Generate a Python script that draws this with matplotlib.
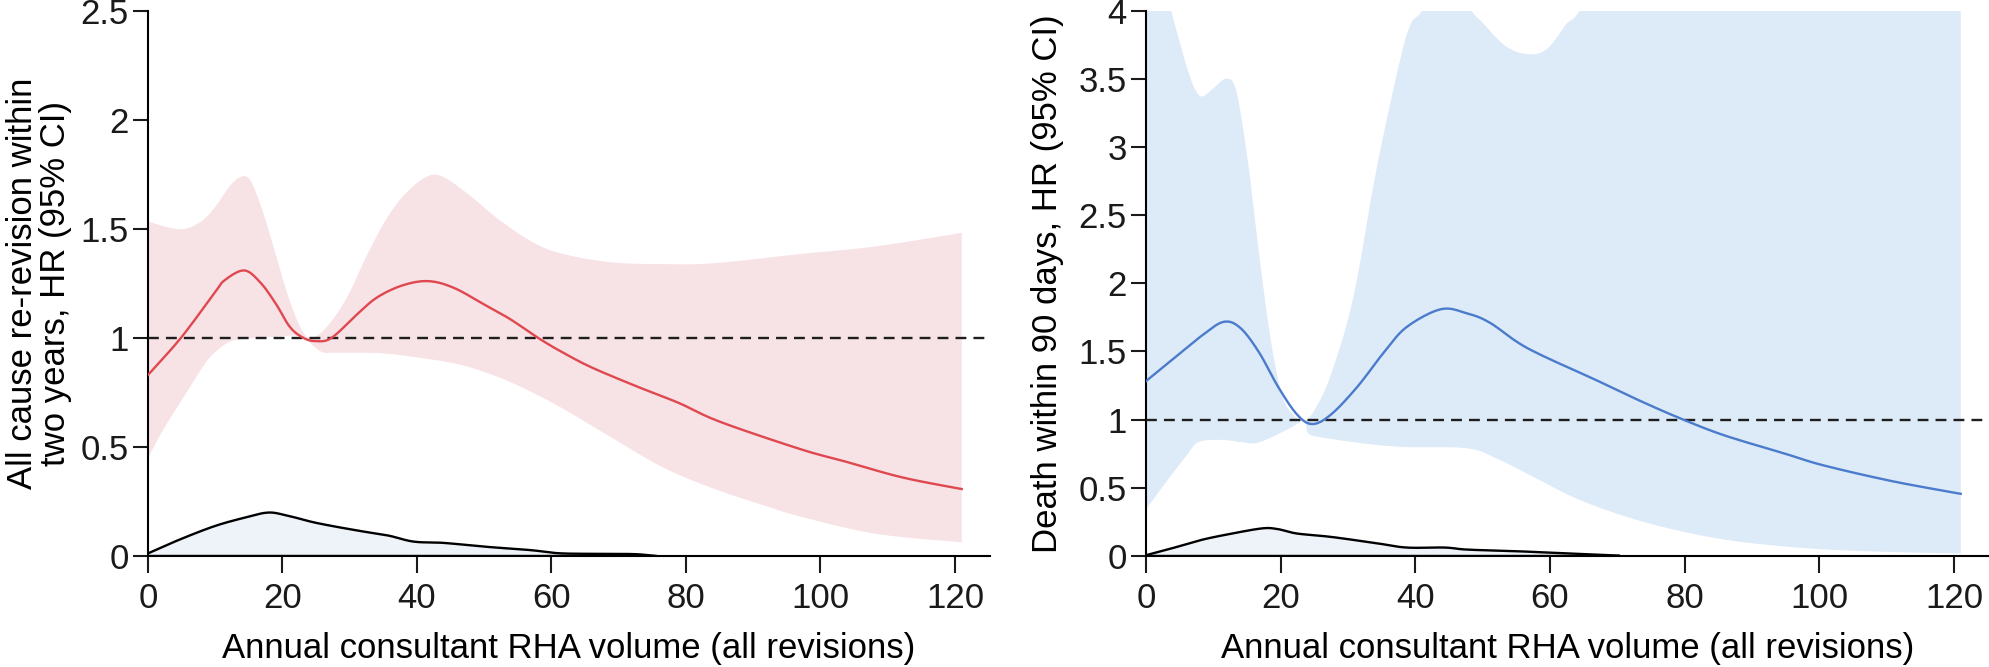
import numpy as np
import matplotlib
matplotlib.use("Agg")
import matplotlib.pyplot as plt

plt.rcParams.update({
    "font.family": ["Liberation Sans", "DejaVu Sans"],
    "font.size": 24,
    "axes.linewidth": 1.5,
    "xtick.major.size": 12,
    "ytick.major.size": 11,
    "xtick.major.width": 1.5,
    "ytick.major.width": 1.5,
    "xtick.major.pad": 7,
    "ytick.major.pad": 3,
})

RED = "#e04850"
PINK = "#f7e2e5"
BLUE = "#4a7bcc"
SKY = "#ddeaf7"
DENS = "#eef3fa"

# ---- left panel: all cause re-revision within two years ----
rev_x = [0, 4.9, 9.9, 11.4, 14.3, 16.7, 19, 21.1, 23.1, 25, 27.3, 31.1, 34.1, 37.9, 41.7,
         45.5, 50.1, 53.9, 58, 61.5, 66, 72.8, 78.9, 85, 97, 103.7, 112.2, 121]
rev_hr = [0.83, 1.0, 1.206, 1.264, 1.309, 1.254, 1.157, 1.05, 1.0, 0.985, 1.0, 1.108, 1.186,
          1.241, 1.26, 1.229, 1.151, 1.085, 1.0, 0.936, 0.864, 0.776, 0.702, 0.616,
          0.49, 0.433, 0.36, 0.307]
rev_up_x = [0, 4.6, 7.6, 9.9, 12.1, 13.7, 15.2, 17.1, 19, 20.9, 22.8, 24.3, 26.6, 29.6, 32.6,
            35.7, 38.7, 41.7, 44, 47.8, 52.4, 57.7, 62.2, 69, 76.6, 84.2, 97, 108.2, 121]
rev_up = [1.533, 1.498, 1.527, 1.596, 1.693, 1.736, 1.723, 1.576, 1.381, 1.186, 1.04, 1.0,
          1.05, 1.186, 1.381, 1.557, 1.674, 1.742, 1.736, 1.654, 1.537, 1.43, 1.381, 1.346,
          1.338, 1.342, 1.384, 1.419, 1.481]
rev_lo_x = [0, 2.3, 5.3, 8.3, 9.9, 12.1, 14.4, 19, 22, 23.5, 25.8, 28.1, 34.9, 41.7, 46.3,
            50.8, 55.4, 61.5, 69, 76.6, 84.2, 91.8, 97, 108.2, 121]
rev_lo = [0.449, 0.581, 0.728, 0.874, 0.932, 0.981, 0.995, 1.005, 1.01, 0.991, 0.936, 0.932,
          0.929, 0.903, 0.878, 0.835, 0.776, 0.679, 0.542, 0.406, 0.308, 0.23, 0.181, 0.102,
          0.063]
rev_dens_x = [0, 4.6, 9.9, 14.4, 17.8, 20.5, 25, 31.1, 35.7, 39.5, 44, 50.8, 56.9, 61.5,
              69, 72.8, 75.5]
rev_dens = [0.012, 0.074, 0.137, 0.176, 0.199, 0.187, 0.152, 0.117, 0.094, 0.066, 0.06,
            0.041, 0.027, 0.012, 0.01, 0.008, 0.0]

# ---- right panel: death within 90 days ----
dth_x = [0, 4.4, 8.3, 11.5, 14, 16.8, 19.6, 22.4, 24.7, 27.5, 31.4, 35.3, 38.7, 43.8, 47.7,
         51.1, 56.7, 66.9, 73.6, 79.8, 86, 95, 100.6, 110.8, 121]
dth_hr = [1.283, 1.461, 1.617, 1.717, 1.673, 1.492, 1.242, 1.039, 0.968, 1.039, 1.242, 1.492,
          1.679, 1.81, 1.779, 1.71, 1.523, 1.289, 1.133, 1.0, 0.883, 0.749, 0.665, 0.549, 0.456]
dth_up_x = [0, 2.5, 3.8, 5, 6.1, 7.2, 8.3, 10, 11.9, 13.4, 15.1, 16.8, 18.5, 20.2, 21.8, 23.5,
            25.2, 27.5, 30.8, 34.2, 37.6, 39.3, 41, 44, 48.3, 50, 53.4, 56.7, 59.6, 62.4,
            64.4, 70, 121]
dth_up = [4.8, 4.3, 3.99, 3.77, 3.58, 3.43, 3.37, 3.43, 3.5, 3.41, 2.9, 2.21, 1.59, 1.18,
          1.04, 0.99, 1.086, 1.336, 1.9, 2.83, 3.61, 3.9, 4.0, 4.3, 4.0, 3.91, 3.74, 3.68,
          3.72, 3.9, 4.0, 4.5, 4.5]
dth_lo_x = [0, 2.7, 6.1, 7.8, 11.1, 14, 16.2, 18.5, 21.3, 23.5, 24.1, 26.3, 33.1, 38.7,
            47.7, 52.2, 57.9, 63.5, 70.2, 78.1, 87.1, 98.4, 109.6, 121]
dth_lo = [0.343, 0.524, 0.743, 0.836, 0.852, 0.836, 0.827, 0.868, 0.936, 0.99, 0.9, 0.868,
          0.821, 0.799, 0.79, 0.712, 0.571, 0.431, 0.306, 0.197, 0.112, 0.056, 0.031, 0.019]
dth_dens_x = [0, 3.8, 8.3, 12.8, 17.3, 19.6, 22.4, 27.5, 34.2, 38.7, 44.4, 47.7, 55.6,
              61.2, 70.2]
dth_dens = [0.006, 0.056, 0.119, 0.165, 0.203, 0.197, 0.165, 0.14, 0.094, 0.062, 0.062,
            0.047, 0.034, 0.022, 0.003]

x_ticks = [0, 20, 40, 60, 80, 100, 120]
x_label = "Annual consultant RHA volume (all revisions)"


def smooth(x, y, n=12):
    # Catmull-Rom pass through the read points, only to draw rounded curves
    p = np.column_stack([x, y]).astype(float)
    p = np.vstack([p[0], p, p[-1]])
    out = []
    t = np.linspace(0, 1, n, endpoint=False)[:, None]
    for i in range(1, len(p) - 2):
        p0, p1, p2, p3 = p[i - 1], p[i], p[i + 1], p[i + 2]
        seg = 0.5 * ((2 * p1) + (-p0 + p2) * t + (2 * p0 - 5 * p1 + 4 * p2 - p3) * t ** 2
                     + (-p0 + 3 * p1 - 3 * p2 + p3) * t ** 3)
        out.append(seg)
    out.append(p[-2][None, :])
    out = np.vstack(out)
    return out[:, 0], out[:, 1]


fig = plt.figure(figsize=(19.89, 6.67), dpi=100)
ax1 = fig.add_axes([0.0744, 0.1664, 0.4233, 0.8177])
ax2 = fig.add_axes([0.5762, 0.1664, 0.4238, 0.8177])


def draw(ax, hx, hr, ux, uy, lx, ly, dx, dy, line_col, band_col, ymax, yticks, ylabel, pad):
    sux, suy = smooth(ux, uy)
    slx, sly = smooth(lx, ly)
    ax.fill(np.r_[sux, slx[::-1]], np.r_[suy, sly[::-1]], color=band_col, lw=0, zorder=1)
    sdx, sdy = smooth(dx, dy)
    ax.fill_between(sdx, 0, sdy, color=DENS, lw=0, zorder=2)
    ax.plot(sdx, sdy, color="black", lw=1.7, zorder=3)
    ax.plot([dx[0], dx[-1]], [0, 0], color="black", lw=1.7, zorder=3)
    ax.axhline(1, color="#1e1e1e", lw=1.7, dashes=(4.6, 3.0), zorder=4)
    shx, shy = smooth(hx, hr)
    ax.plot(shx, shy, color=line_col, lw=1.7, zorder=5)
    ax.set_xlim(0, 125.2)
    ax.set_ylim(0, ymax)
    ax.set_xticks(x_ticks)
    ax.set_yticks(yticks)
    ax.set_yticklabels([f"{t:g}" for t in yticks])
    ax.spines[["top", "right"]].set_visible(False)
    ax.tick_params(colors="#1a1a1a", labelsize=25)
    ax.set_xlabel(x_label, fontsize=25, labelpad=12)
    ax.set_ylabel(ylabel, fontsize=25, labelpad=pad, linespacing=1.0)


draw(ax1, rev_x, rev_hr, rev_up_x, rev_up, rev_lo_x, rev_lo, rev_dens_x, rev_dens,
     RED, PINK, 2.5, [0, 0.5, 1, 1.5, 2, 2.5],
     "All cause re-revision within\ntwo years, HR (95% CI)", 6)
draw(ax2, dth_x, dth_hr, dth_up_x, dth_up, dth_lo_x, dth_lo, dth_dens_x, dth_dens,
     BLUE, SKY, 4, [0, 0.5, 1, 1.5, 2, 2.5, 3, 3.5, 4],
     "Death within 90 days, HR (95% CI)", 10)

fig.savefig("out.png", dpi=100)
